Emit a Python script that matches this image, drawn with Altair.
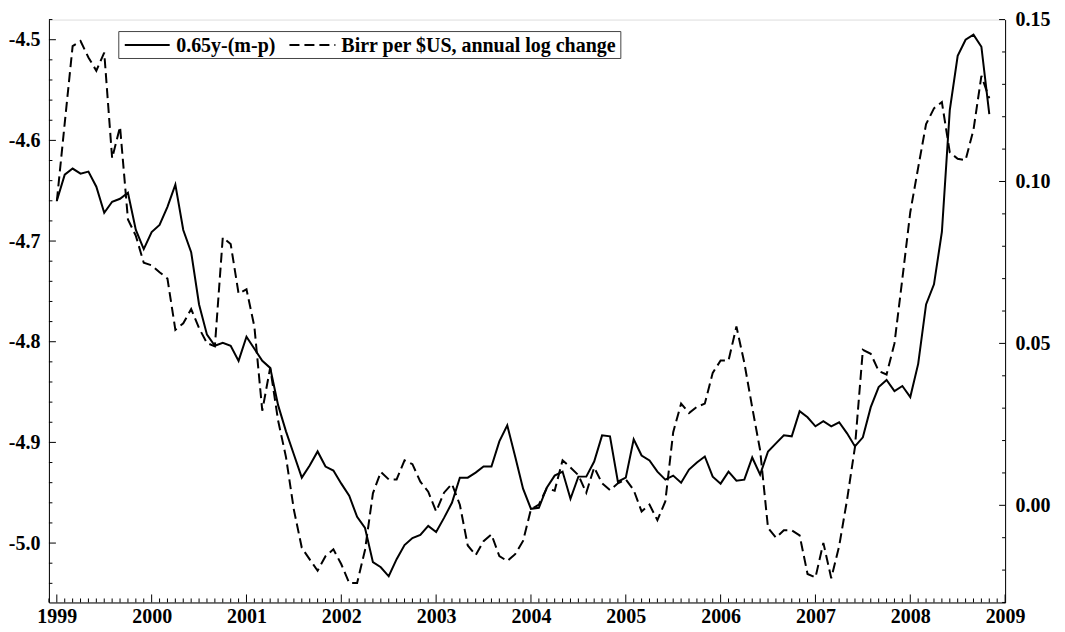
import altair as alt
import pandas as pd

# ---- data (monthly, 1999:1 .. 2008:11) ----
start_year = 1999
solid_vals = [
    -4.660, -4.634, -4.628, -4.633, -4.631, -4.646, -4.672, -4.661, -4.658, -4.652, -4.689, -4.708,
    -4.691, -4.684, -4.666, -4.644, -4.689, -4.711, -4.763, -4.793, -4.804, -4.801, -4.804, -4.819,
    -4.795, -4.807, -4.819, -4.826, -4.863, -4.889, -4.912, -4.935, -4.923, -4.909, -4.924, -4.928,
    -4.941, -4.953, -4.974, -4.985, -5.019, -5.024, -5.033, -5.016, -5.002, -4.995, -4.992, -4.983,
    -4.989, -4.975, -4.960, -4.935, -4.935, -4.930, -4.924, -4.924, -4.899, -4.883, -4.914, -4.946,
    -4.966, -4.965, -4.945, -4.933, -4.929, -4.956, -4.934, -4.934, -4.919, -4.893, -4.894, -4.939,
    -4.935, -4.897, -4.913, -4.918, -4.929, -4.937, -4.933, -4.940, -4.927, -4.920, -4.914, -4.934,
    -4.941, -4.929, -4.938, -4.937, -4.915, -4.932, -4.909, -4.901, -4.893, -4.894, -4.869, -4.875,
    -4.884, -4.879, -4.884, -4.880, -4.891, -4.904, -4.895, -4.865, -4.845, -4.838, -4.849, -4.844,
    -4.855, -4.822, -4.763, -4.743, -4.691, -4.570, -4.516, -4.500, -4.495, -4.507, -4.574,
]
dashed_vals = [
    0.0939, 0.1180, 0.1418, 0.1434, 0.1383, 0.1342, 0.1398, 0.1072, 0.1169, 0.0883, 0.0832, 0.0749,
    0.0741, 0.0720, 0.0700, 0.0542, 0.0562, 0.0606, 0.0547, 0.0501, 0.0491, 0.0827, 0.0807, 0.0654,
    0.0667, 0.0552, 0.0292, 0.0425, 0.0262, 0.0149, -0.0014, -0.0131, -0.0167, -0.0202, -0.0157, -0.0136,
    -0.0182, -0.0240, -0.0240, -0.0138, 0.0037, 0.0103, 0.0080, 0.0080, 0.0139, 0.0127, 0.0073, 0.0042,
    -0.0019, 0.0039, 0.0066, 0.0002, -0.0124, -0.0154, -0.0111, -0.0090, -0.0157, -0.0172, -0.0151, -0.0110,
    -0.0012, 0.0002, 0.0053, 0.0045, 0.0139, 0.0117, 0.0093, 0.0039, 0.0117, 0.0068, 0.0047, 0.0068,
    0.0080, 0.0047, -0.0019, 0.0002, -0.0046, 0.0012, 0.0226, 0.0314, 0.0285, 0.0304, 0.0314, 0.0409,
    0.0447, 0.0447, 0.0552, 0.0440, 0.0302, 0.0170, -0.0070, -0.0100, -0.0077, -0.0077, -0.0093, -0.0212,
    -0.0223, -0.0116, -0.0225, -0.0126, 0.0017, 0.0180, 0.0480, 0.0468, 0.0415, 0.0404, 0.0500, 0.0700,
    0.0905, 0.1043, 0.1177, 0.1226, 0.1245, 0.1090, 0.1070, 0.1066, 0.1160, 0.1326, 0.1257,
]
series_names = ["0.65y-(m-p)", "Birr per $US, annual log change"]

# tick values
year_ticks = list(range(1999, 2010))
left_major = [-5.0, -4.9, -4.8, -4.7, -4.6, -4.5]
left_minor = [-5.04, -5.02, -4.98, -4.96, -4.94, -4.92, -4.88, -4.86, -4.84, -4.82,
              -4.78, -4.76, -4.74, -4.72, -4.68, -4.66, -4.64, -4.62, -4.58, -4.56,
              -4.54, -4.52, -4.48]
right_major = [0.0, 0.05, 0.10, 0.15]
right_minor = [-0.03, -0.02, -0.01, 0.01, 0.02, 0.03, 0.04, 0.06, 0.07, 0.08, 0.09,
               0.11, 0.12, 0.13, 0.14]
month_minor = [y + m / 12 for y in range(1998, 2009) for m in range(1, 12)
               if 1998 + 11 / 12 - 1e-9 <= y + m / 12 <= 2009]

FONT = "Liberation Serif"
FS = 20
FW = "bold"
W, H = 958, 584

t = [start_year + i / 12 for i in range(len(solid_vals))]
df_solid = pd.DataFrame({"t": t, "v": solid_vals})
df_dash = pd.DataFrame({"t": t, "v": dashed_vals})

x_scale = alt.Scale(domain=[1998 + 11 / 12, 2009], nice=False, zero=False)
left_scale = alt.Scale(domain=[-5.059, -4.48], nice=False, zero=False)
right_scale = alt.Scale(domain=[-0.03, 0.15], nice=False, zero=False)

x_axis = alt.Axis(values=year_ticks, format="d", ticks=False, grid=False, domain=True,
                  domainColor="black", domainWidth=1, labelFont=FONT, labelFontSize=FS,
                  labelFontWeight=FW, labelColor="black", labelPadding=4, labelFlush=False,
                  title=None)
left_axis = alt.Axis(values=left_major, ticks=False, grid=False, domain=True, orient="left",
                     domainColor="black", domainWidth=1, labelFont=FONT, labelFontSize=FS,
                     labelFontWeight=FW, labelColor="black", labelPadding=9, title=None,
                     labelExpr="(datum.value < 0 ? '-' : '') + format(abs(datum.value), '.1f')")
right_axis = alt.Axis(values=right_major, ticks=False, grid=False, domain=True, orient="right",
                      domainColor="black", domainWidth=1, labelFont=FONT, labelFontSize=FS,
                      labelFontWeight=FW, labelColor="black", labelPadding=10, title=None,
                      format=".2f")

X = alt.X("t:Q", scale=x_scale, axis=x_axis)

solid_line = alt.Chart(df_solid).mark_line(color="black", strokeWidth=2).encode(
    x=X, y=alt.Y("v:Q", scale=left_scale, axis=left_axis),
)
dash_line = alt.Chart(df_dash).mark_line(color="black", strokeWidth=2, strokeDash=[10, 5]).encode(
    x=X, y=alt.Y("v:Q", scale=right_scale, axis=right_axis),
)


def hticks(vals, scale, axis, x0, x1):
    return alt.Chart(pd.DataFrame({"v": vals})).mark_rule(color="black", strokeWidth=1).encode(
        y=alt.Y("v:Q", scale=scale, axis=axis),
        x=alt.value(x0), x2=alt.value(x1),
    )


def vticks(vals, y0, y1):
    return alt.Chart(pd.DataFrame({"t": vals})).mark_rule(color="black", strokeWidth=1).encode(
        x=X, y=alt.value(y0), y2=alt.value(y1),
    )


# ---- legend box (drawn by hand, inside plot area) ----
one = pd.DataFrame({"a": [0]})
LY0, LY1, LYC = 12, 39, 25.5
leg_box = alt.Chart(one).mark_rect(fill="white", stroke="#444", strokeWidth=1).encode(
    x=alt.value(70), x2=alt.value(573), y=alt.value(LY0), y2=alt.value(LY1))
leg_solid = alt.Chart(one).mark_rule(color="black", strokeWidth=2).encode(
    x=alt.value(76), x2=alt.value(121), y=alt.value(LYC))
leg_dash = alt.Chart(one).mark_rule(color="black", strokeWidth=2, strokeDash=[10, 5]).encode(
    x=alt.value(241), x2=alt.value(287), y=alt.value(LYC))
leg_t1 = alt.Chart(one).mark_text(align="left", baseline="middle", font=FONT, fontSize=FS,
                                  fontWeight=FW, color="black").encode(
    x=alt.value(127.5), y=alt.value(LYC + 1), text=alt.value(series_names[0]))
leg_t2 = alt.Chart(one).mark_text(align="left", baseline="middle", font=FONT, fontSize=FS,
                                  fontWeight=FW, color="black").encode(
    x=alt.value(293), y=alt.value(LYC + 1), text=alt.value(series_names[1]))

left_group = alt.layer(
    solid_line,
    hticks(left_major, left_scale, left_axis, 0, 7),
    hticks(left_minor, left_scale, left_axis, 0, 3.5),
    vticks(year_ticks, H, H - 8),
    vticks(month_minor, H, H - 4),
)
right_group = alt.layer(
    dash_line,
    hticks(right_major, right_scale, right_axis, W, W - 6),
    hticks(right_minor, right_scale, right_axis, W, W - 3),
    leg_box, leg_solid, leg_dash, leg_t1, leg_t2,
)

chart = alt.layer(left_group, right_group).resolve_scale(y="independent").properties(
    width=W, height=H,
    autosize=alt.AutoSizeParams(type="none"),
    padding={"left": 41, "top": 11, "right": 52, "bottom": 30},
).configure_view(stroke=None).configure(background="white")

chart.save("out.html", embed_options={"renderer": "svg", "actions": False})
